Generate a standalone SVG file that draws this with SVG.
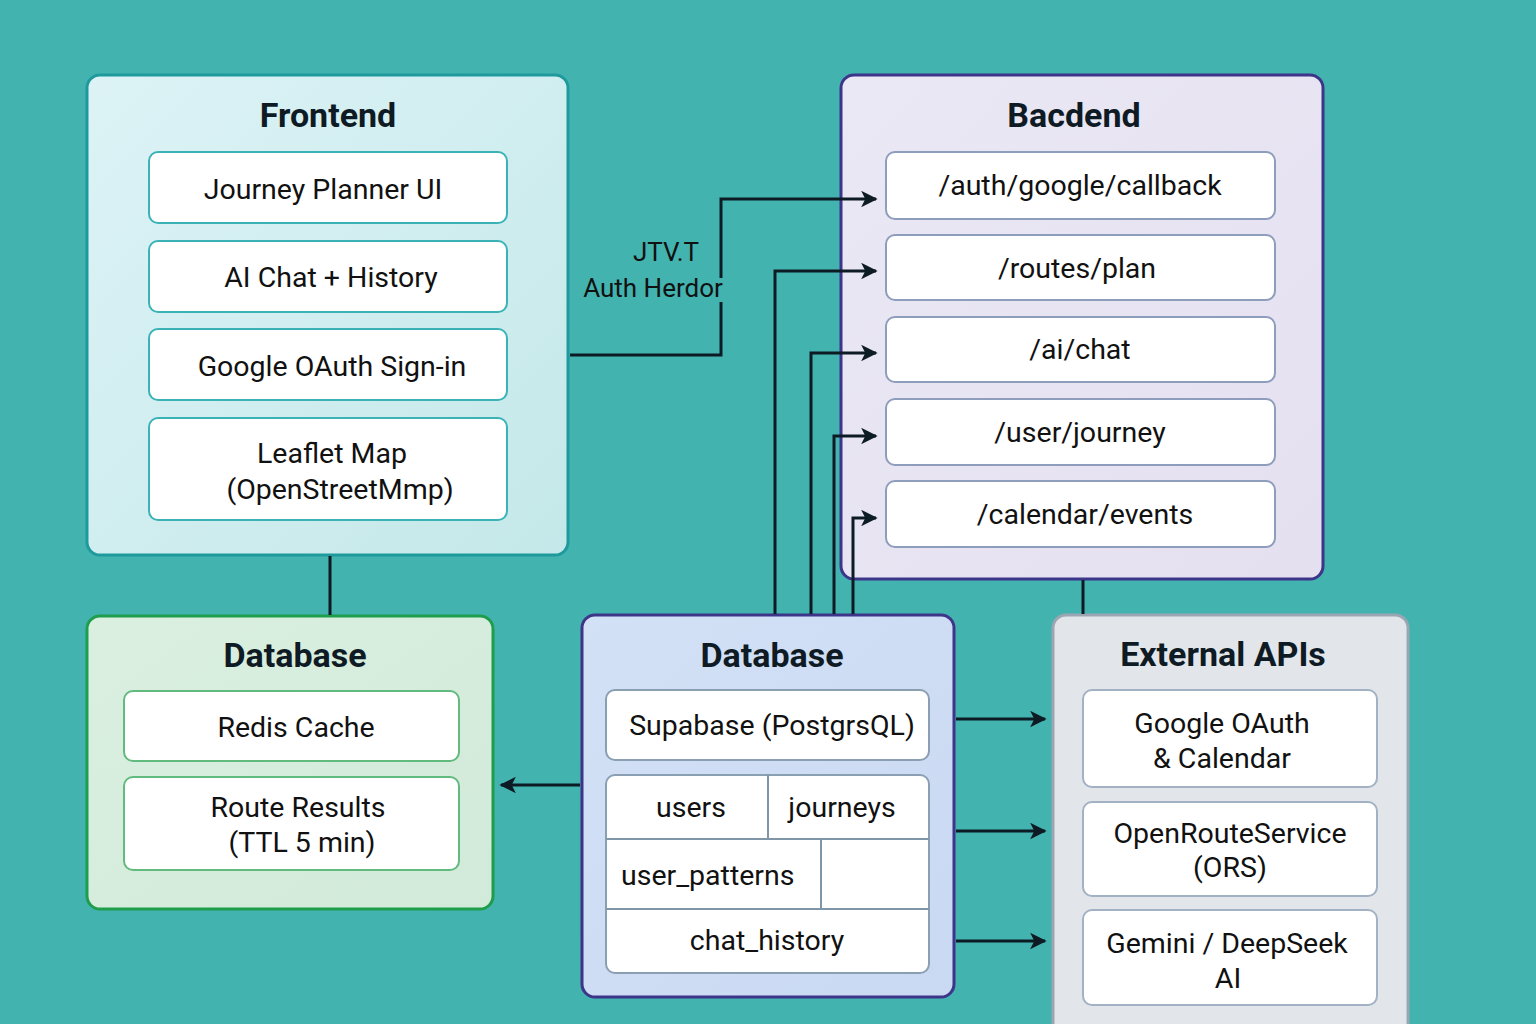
<svg xmlns="http://www.w3.org/2000/svg" width="1536" height="1024" viewBox="0 0 1536 1024">
<defs>
<linearGradient id="gFront" x1="0" y1="0" x2="1" y2="1"><stop offset="0" stop-color="#ddf3f6"/><stop offset="1" stop-color="#c4e8e9"/></linearGradient>
<linearGradient id="gBack" x1="0" y1="0" x2="1" y2="1"><stop offset="0" stop-color="#ebe8f5"/><stop offset="1" stop-color="#e4e0f0"/></linearGradient>
<linearGradient id="gGreen" x1="0" y1="0" x2="1" y2="1"><stop offset="0" stop-color="#daefe0"/><stop offset="1" stop-color="#d2eada"/></linearGradient>
<linearGradient id="gBlue" x1="0" y1="0" x2="1" y2="1"><stop offset="0" stop-color="#d3e1f6"/><stop offset="1" stop-color="#c9d9f2"/></linearGradient>
<marker id="arr" viewBox="0 0 10 10" refX="9" refY="5" markerWidth="5.5" markerHeight="5.5" orient="auto" markerUnits="strokeWidth"><path d="M0,0 L10,5 L0,10 L2.5,5 z" fill="#0d1b24"/></marker>
</defs>
<style>
.title{font-family:Roboto,"Noto Sans","Liberation Sans",sans-serif;font-weight:bold;font-size:34px;fill:#0f1b24;text-anchor:middle;dominant-baseline:central}
.t{font-family:Roboto,"Noto Sans","Liberation Sans",sans-serif;font-size:28.5px;fill:#111;text-anchor:middle;dominant-baseline:central}
.inner{fill:#fff;stroke-width:2}
.conn{fill:none;stroke:#0d1b24;stroke-width:3}
</style>
<rect width="1536" height="1024" fill="#43b3b0"/>

<g id="frontend">
<rect x="87" y="75" width="481" height="480" rx="13" fill="url(#gFront)" stroke="#1e9a9c" stroke-width="3"/>
<text class="title" x="328" y="115">Frontend</text>
<rect class="inner" x="149" y="152" width="358" height="71" rx="9" stroke="#3bb3b6"/>
<text class="t" x="323" y="189">Journey Planner UI</text>
<rect class="inner" x="149" y="241" width="358" height="71" rx="9" stroke="#3bb3b6"/>
<text class="t" x="331" y="277">AI Chat + History</text>
<rect class="inner" x="149" y="329" width="358" height="71" rx="9" stroke="#3bb3b6"/>
<text class="t" x="332" y="366">Google OAuth Sign-in</text>
<rect class="inner" x="149" y="418" width="358" height="102" rx="9" stroke="#3bb3b6"/>
<text class="t" x="332" y="453">Leaflet Map</text>
<text class="t" x="340" y="489">(OpenStreetMmp)</text>
</g>

<g id="backend">
<rect x="841" y="75" width="482" height="504" rx="13" fill="url(#gBack)" stroke="#3c3589" stroke-width="3"/>
<text class="title" x="1074" y="115">Bacdend</text>
<rect class="inner" x="886" y="152" width="389" height="67" rx="9" stroke="#8e9dbb"/>
<text class="t" x="1080" y="185">/auth/google/callback</text>
<rect class="inner" x="886" y="235" width="389" height="65" rx="9" stroke="#8e9dbb"/>
<text class="t" x="1077" y="268">/routes/plan</text>
<rect class="inner" x="886" y="317" width="389" height="65" rx="9" stroke="#8e9dbb"/>
<text class="t" x="1080" y="349">/ai/chat</text>
<rect class="inner" x="886" y="399" width="389" height="66" rx="9" stroke="#8e9dbb"/>
<text class="t" x="1080" y="432">/user/journey</text>
<rect class="inner" x="886" y="481" width="389" height="66" rx="9" stroke="#8e9dbb"/>
<text class="t" x="1085" y="514">/calendar/events</text>
</g>

<g id="cache-db">
<rect x="87" y="616" width="406" height="293" rx="13" fill="url(#gGreen)" stroke="#1e9e4c" stroke-width="3"/>
<text class="title" x="295" y="655">Database</text>
<rect class="inner" x="124" y="691" width="335" height="70" rx="9" stroke="#62bb7e"/>
<text class="t" x="296" y="727">Redis Cache</text>
<rect class="inner" x="124" y="777" width="335" height="93" rx="9" stroke="#62bb7e"/>
<text class="t" x="298" y="807">Route Results</text>
<text class="t" x="302" y="842">(TTL 5 min)</text>
</g>

<g id="main-db">
<rect x="582" y="615" width="372" height="382" rx="13" fill="url(#gBlue)" stroke="#3c3589" stroke-width="3"/>
<text class="title" x="772" y="655">Database</text>
<rect class="inner" x="606" y="690" width="323" height="70" rx="9" stroke="#8a9fb2"/>
<text class="t" x="772" y="725">Supabase (PostgrsQL)</text>
<rect class="inner" x="606" y="775" width="323" height="198" rx="9" stroke="#8a9fb2"/>
<g stroke="#7f95a8" stroke-width="2" fill="none">
<line x1="606" y1="839" x2="929" y2="839"/>
<line x1="606" y1="909" x2="929" y2="909"/>
<line x1="768" y1="775" x2="768" y2="839"/>
<line x1="821" y1="839" x2="821" y2="909"/>
</g>
<text class="t" x="691" y="807">users</text>
<text class="t" x="842" y="807">journeys</text>
<text class="t" x="621" y="875" style="text-anchor:start">user_patterns</text>
<text class="t" x="767" y="940">chat_history</text>
</g>

<g id="external">
<rect x="1053" y="615" width="355" height="430" rx="13" fill="#e2e6ea" stroke="#9ba6b2" stroke-width="3"/>
<text class="title" x="1223" y="654">External APIs</text>
<rect class="inner" x="1083" y="690" width="294" height="97" rx="9" stroke="#a2b1c4"/>
<text class="t" x="1222" y="723">Google OAuth</text>
<text class="t" x="1222" y="758">&amp; Calendar</text>
<rect class="inner" x="1083" y="802" width="294" height="94" rx="9" stroke="#a2b1c4"/>
<text class="t" x="1230" y="833">OpenRouteService</text>
<text class="t" x="1230" y="867">(ORS)</text>
<rect class="inner" x="1083" y="910" width="294" height="95" rx="9" stroke="#a2b1c4"/>
<text class="t" x="1227" y="943">Gemini / DeepSeek</text>
<text class="t" x="1228" y="978">AI</text>
</g>

<g id="connectors">
<polyline class="conn" points="570,355 721,355 721,302"/>
<polyline class="conn" points="721,278 721,199 876,199" marker-end="url(#arr)"/>
<polyline class="conn" points="775,614 775,271 876,271" marker-end="url(#arr)"/>
<polyline class="conn" points="811,614 811,353 876,353" marker-end="url(#arr)"/>
<polyline class="conn" points="834,614 834,436 876,436" marker-end="url(#arr)"/>
<polyline class="conn" points="853,614 853,518 876,518" marker-end="url(#arr)"/>
<line class="conn" x1="330" y1="556" x2="330" y2="615"/>
<line class="conn" x1="1083" y1="580" x2="1083" y2="614"/>
<line class="conn" x1="580" y1="785" x2="501" y2="785" marker-end="url(#arr)"/>
<line class="conn" x1="956" y1="719" x2="1045" y2="719" marker-end="url(#arr)"/>
<line class="conn" x1="956" y1="831" x2="1045" y2="831" marker-end="url(#arr)"/>
<line class="conn" x1="956" y1="941" x2="1045" y2="941" marker-end="url(#arr)"/>
<text class="t" x="666" y="252" style="font-size:26px">JTV.T</text>
<text class="t" x="653" y="288" style="font-size:26px">Auth Herdor</text>
</g>
</svg>
